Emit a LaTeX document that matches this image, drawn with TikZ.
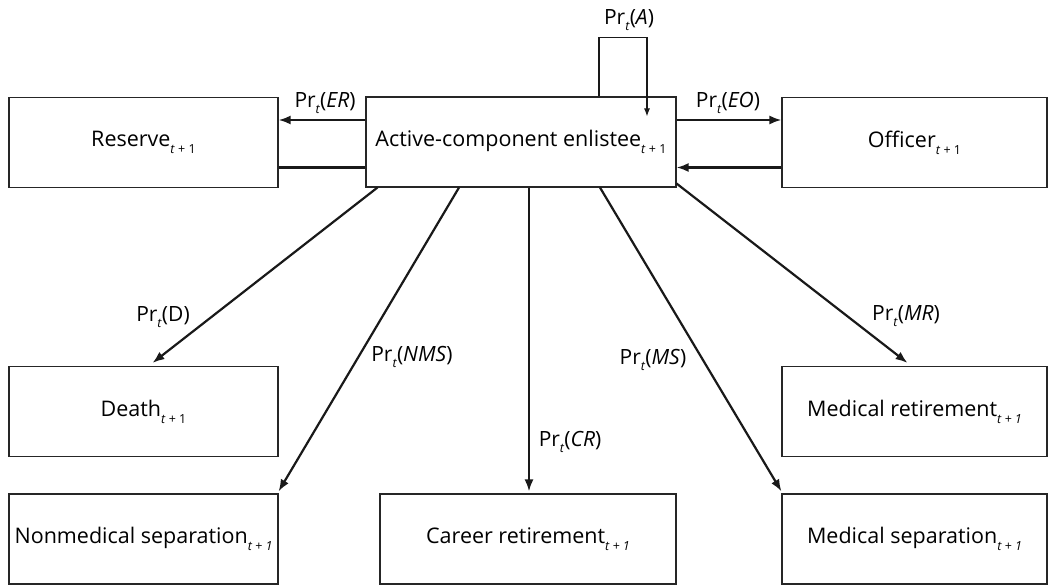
\documentclass[tikz,border=0pt]{standalone}
\usepackage{fontspec}
\setmainfont{Open Sans}
\usetikzlibrary{arrows.meta}

\newcommand\subt[1]{\raisebox{-0.6ex}{\fontsize{12.5}{12.5}\selectfont #1}}
\newcommand\prt[1]{Pr\subt{\textit{t}}(#1)}

\begin{document}
\begin{tikzpicture}[x=1pt,y=-1pt,
	state/.style={draw=black!85, line width=1.1pt, minimum height=90pt, inner sep=0pt, font=\fontsize{21.5}{21.5}\selectfont},
	flow/.style={arrows={-Latex[length=12pt,width=9pt]}, line width=2.2pt, black!90},
	lbl/.style={inner sep=0pt, font=\fontsize{21}{21}\selectfont}]
	\useasboundingbox (0,0) rectangle (1048,585);
	% states
	\node [state, minimum width=310pt] (act) at (521,142) {Active-component enlistee\subt{\textit{t} + 1}};
	\node [state, minimum width=269pt] (res) at (143.5,142.5) {Reserve\subt{\textit{t} + 1}};
	\node [state, minimum width=265pt] (off) at (914.5,142.5) {Officer\subt{\textit{t} + 1}};
	\node [state, minimum width=269pt] (dth) at (143.5,411.5) {Death\subt{\textit{t} + 1}};
	\node [state, minimum width=269pt] (nms) at (143.5,539) {Nonmedical separation\subt{\textit{t + 1}}};
	\node [state, minimum width=296pt] (car) at (528,539) {Career retirement\subt{\textit{t + 1}}};
	\node [state, minimum width=265pt] (mr) at (914.5,411.5) {Medical retirement\subt{\textit{t + 1}}};
	\node [state, minimum width=265pt] (ms) at (914.5,539) {Medical separation\subt{\textit{t + 1}}};
	% reserve and officer
	\draw [flow] ([yshift=22pt]act.west) -- ([yshift=22pt]act.west -| res.east);
	\draw [line width=2.2pt, black!90] ([yshift=-25pt]res.east) -- ([yshift=-25pt]res.east -| act.west);
	\draw [flow] ([yshift=22pt]act.east) -- ([yshift=22pt]act.east -| off.west);
	\draw [flow] ([yshift=-25pt]off.west) -- ([yshift=-25pt]off.west -| act.east);
	% stay
	\draw [arrows={-Latex[length=8pt,width=6pt]}, line width=1.1pt, black!90] ([xshift=78pt]act.north) -- ++(0,-59) -| ([xshift=126pt,yshift=-20pt]act.north);
	% exits
	\draw [flow] ([xshift=12pt]act.south west) -- ([xshift=9pt,yshift=3pt]dth.north);
	\draw [flow] ([xshift=-62pt]act.south) -- ([yshift=2pt]nms.north east);
	\draw [flow] ([xshift=8pt]act.south) -- ([xshift=8pt,yshift=2pt]act.south |- car.north);
	\draw [flow] ([xshift=79pt]act.south) -- ([yshift=2pt]ms.north west);
	\draw [flow] ([yshift=4pt]act.south east) -- ([xshift=-7pt,yshift=3pt]mr.north);
	% labels
	\node [lbl] (lA) at (629,20) {\prt{\textit{A}}};
	\node [lbl] (lER) at (325,103) {\prt{\textit{ER}}};
	\node [lbl] (lEO) at (728,103) {\prt{\textit{EO}}};
	\node [lbl] (lD) at (163,317) {\prt{D}};
	\node [lbl] (lNMS) at (412,357) {\prt{\textit{NMS}}};
	\node [lbl] (lCR) at (570,442) {\prt{\textit{CR}}};
	\node [lbl] (lMS) at (653,360) {\prt{\textit{MS}}};
	\node [lbl] (lMR) at (906,316) {\prt{\textit{MR}}};
\end{tikzpicture}
\end{document}
